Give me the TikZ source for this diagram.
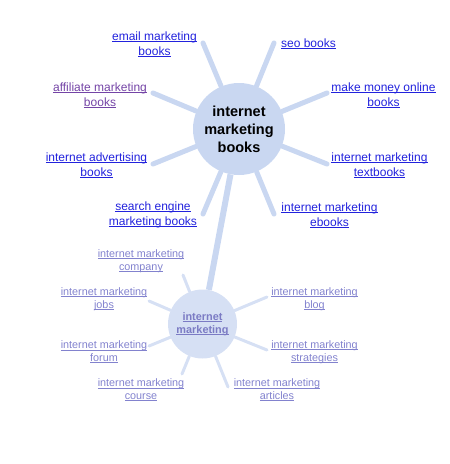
\documentclass[tikz,border=0pt]{standalone}
\usepackage{fontspec}
\setmainfont{Liberation Sans}
\usepackage{xcolor}
\usepackage{tikz}
\definecolor{hubcol}{HTML}{C9D7F1}
\definecolor{subcol}{HTML}{D6E0F4}
\definecolor{linkcol}{HTML}{2222DD}
\definecolor{visitcol}{HTML}{7444A6}
\definecolor{fadecol}{HTML}{8282CE}
\newcommand{\lnk}[1]{\setbox0\hbox{#1}\rlap{\rule[-1.6pt]{\wd0}{0.9pt}}\box0}

\begin{document}
\begin{tikzpicture}[x=1pt,y=-1pt,
  hub/.style={circle,fill=hubcol,inner sep=0pt,align=center},
  spoke/.style={draw=hubcol,line width=5pt,line cap=round},
  subspoke/.style={draw=subcol,line width=3pt,line cap=round},
  lbl/.style={align=center,inner sep=0pt,text=linkcol,
              font=\fontsize{12}{15}\selectfont},
  sublbl/.style={align=center,inner sep=0pt,text=fadecol,
                 font=\fontsize{10.8}{12.6}\selectfont},
]
\useasboundingbox (0,0) rectangle (450,464);

% main cluster
\node[hub,minimum size=92pt,font=\fontsize{14.5}{18}\selectfont\bfseries]
  (hub) at (239,129) {internet\\marketing\\books};
\node[hub,minimum size=69pt,fill=subcol,text=fadecol!95!black,
      font=\fontsize{10.9}{12.6}\selectfont\bfseries]
  (sub) at (202.5,324) {\lnk{internet}\\\lnk{marketing}};
\draw[draw=hubcol,line width=6pt] (hub) -- (sub);

\coordinate (pEmail) at (203,43);
\coordinate (pSeo) at (274,43);
\coordinate (pAffil) at (153,93);
\coordinate (pMoney) at (327,93);
\coordinate (pAdv) at (153,164);
\coordinate (pText) at (327,164);
\coordinate (pSearch) at (203,214);
\coordinate (pEbook) at (274,214);
\foreach \p in {pEmail,pSeo,pAffil,pMoney,pAdv,pText,pSearch,pEbook}
  \draw[spoke] (hub) -- (\p);

\node[lbl] (tEmail) at (154.5,44) {\lnk{email marketing}\\\lnk{books}};
\node[lbl] (tSeo) at (308.5,44) {\lnk{seo books}};
\node[lbl,text=visitcol] (tAffil) at (100,95) {\lnk{affiliate marketing}\\\lnk{books}};
\node[lbl] (tMoney) at (383.5,95) {\lnk{make money online}\\\lnk{books}};
\node[lbl] (tAdv) at (96.5,165) {\lnk{internet advertising}\\\lnk{books}};
\node[lbl] (tText) at (379.5,165) {\lnk{internet marketing}\\\lnk{textbooks}};
\node[lbl] (tSearch) at (153,215) {\lnk{search engine}\\\lnk{marketing books}};
\node[lbl] (tEbook) at (329.5,215) {\lnk{internet marketing}\\\lnk{ebooks}};

% second cluster
\coordinate (qComp) at (183,275);
\coordinate (qJobs) at (149,301);
\coordinate (qBlog) at (267,297);
\coordinate (qForum) at (149,346);
\coordinate (qStrat) at (267,350);
\coordinate (qCourse) at (182,374);
\coordinate (qArt) at (228,387);
\foreach \q in {qComp,qJobs,qBlog,qForum,qStrat,qCourse,qArt}
  \draw[subspoke] (sub) -- (\q);

\node[sublbl] (uComp) at (141,261) {\lnk{internet marketing}\\\lnk{company}};
\node[sublbl] (uJobs) at (104,299) {\lnk{internet marketing}\\\lnk{jobs}};
\node[sublbl] (uBlog) at (314.5,299) {\lnk{internet marketing}\\\lnk{blog}};
\node[sublbl] (uForum) at (104,352) {\lnk{internet marketing}\\\lnk{forum}};
\node[sublbl] (uStrat) at (314.5,352) {\lnk{internet marketing}\\\lnk{strategies}};
\node[sublbl] (uCourse) at (141,390) {\lnk{internet marketing}\\\lnk{course}};
\node[sublbl] (uArt) at (277,390) {\lnk{internet marketing}\\\lnk{articles}};
\end{tikzpicture}
\end{document}
